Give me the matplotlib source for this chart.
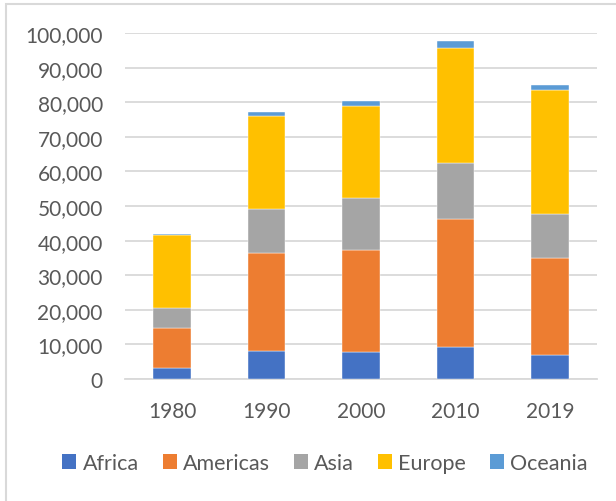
import matplotlib
matplotlib.use("Agg")
import matplotlib.pyplot as plt
import matplotlib.ticker as ticker
from matplotlib.patches import Patch, Rectangle
import numpy as np

plt.rcParams["font.family"] = ["Lato", "DejaVu Sans"]

years = ["1980", "1990", "2000", "2010", "2019"]
regions = ["Africa", "Americas", "Asia", "Europe", "Oceania"]
africa = [3240, 8190, 7900, 9150, 6940]
americas = [11360, 28140, 29290, 37000, 27940]
asia = [6060, 12800, 15210, 16180, 12900]
europe = [20900, 26870, 26600, 33420, 35750]
oceania = [490, 1080, 1350, 1850, 1350]

colors = ["#4472C4", "#ED7D31", "#A5A5A5", "#FFC000", "#5B9BD5"]
text_color = "#595959"
grid_color = "#D9D9D9"

fig = plt.figure(figsize=(6.16, 5.02), dpi=100)
ax = fig.add_axes([125 / 616, 1 - 380 / 502, 472 / 616, 346 / 502])

x = np.arange(len(years))
bottom = np.zeros(len(years))
for vals, c in zip([africa, americas, asia, europe, oceania], colors):
    ax.bar(x, vals, 0.4, bottom=bottom, color=c, edgecolor="white", linewidth=0.3, zorder=3)
    bottom += np.array(vals)

ax.set_xlim(-0.5, len(years) - 0.5)
ax.set_ylim(0, 100000)
ax.yaxis.set_major_locator(ticker.MultipleLocator(10000))
ax.yaxis.set_major_formatter(ticker.FuncFormatter(lambda v, p: f"{int(v):,}"))
ax.set_xticks(x)
ax.set_xticklabels(years)
ax.tick_params(axis="y", length=0, pad=16, labelsize=15, labelcolor=text_color)
ax.tick_params(axis="x", length=0, pad=16, labelsize=15, labelcolor=text_color)
ax.grid(True, axis="y", color=grid_color, linewidth=1.3, zorder=0)
for s in ["top", "right", "left"]:
    ax.spines[s].set_visible(False)
ax.spines["bottom"].set_color(grid_color)
ax.spines["bottom"].set_linewidth(1.3)

handles = [Patch(facecolor=c, edgecolor="none") for c in colors]
fig.legend(handles, regions, loc="center", bbox_to_anchor=(325 / 616, 1 - 464 / 502),
           ncol=5, frameon=False, fontsize=15.5, labelcolor=text_color,
           handlelength=0.65, handleheight=0.7, handletextpad=0.3, columnspacing=1.1)

# chart area border (cropped at right and bottom)
fig.patches.append(Rectangle((6 / 616, -0.1), 1.2, 1.1 - 5 / 502, transform=fig.transFigure,
                             fill=False, edgecolor=grid_color, linewidth=1.5))

fig.savefig("out.png", dpi=100)
